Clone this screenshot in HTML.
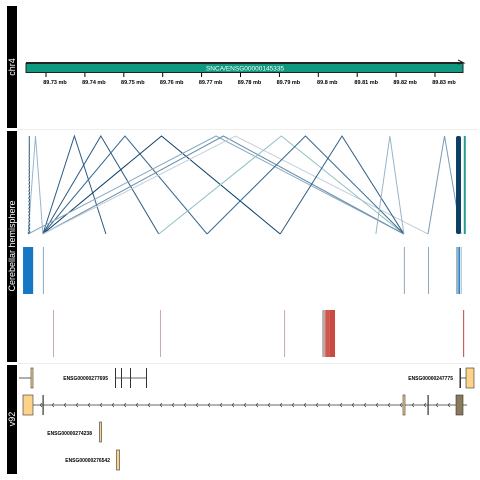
<!DOCTYPE html>
<html><head><meta charset="utf-8"><style>
html,body{margin:0;padding:0;background:#fff}
svg{display:block;font-family:"Liberation Sans",sans-serif}
</style></head><body>
<svg id="c" width="480" height="480" viewBox="0 0 480 480">
<rect x="7" y="6" width="10" height="122" fill="#000"/>
<text transform="translate(15,67) rotate(-90)" text-anchor="middle" font-size="9" fill="#fff">chr4</text>
<rect x="7" y="131" width="10" height="231" fill="#000"/>
<text transform="translate(15,246) rotate(-90)" text-anchor="middle" font-size="9" fill="#fff">Cerebellar hemisphere</text>
<rect x="7" y="365" width="10" height="109" fill="#000"/>
<text transform="translate(15,419) rotate(-90)" text-anchor="middle" font-size="9" fill="#fff">v92</text>
<line x1="18" y1="129.5" x2="478" y2="129.5" stroke="#ddd" stroke-width="0.6"/>
<line x1="18" y1="363.5" x2="478" y2="363.5" stroke="#ddd" stroke-width="0.6"/>
<rect x="26" y="63.5" width="437" height="9" fill="#0f9a80" stroke="#222" stroke-width="1"/>
<line x1="26" y1="63" x2="463" y2="63" stroke="#222" stroke-width="2"/>
<path d="M458,60 L464,63 L458,64" fill="none" stroke="#222" stroke-width="1"/>
<text x="245" y="70.5" text-anchor="middle" font-size="6.5" fill="#fff">SNCA/ENSG00000145335</text>
<g id="axis"></g><g id="links"></g><g id="cov"></g><g id="genes"></g>
</svg>
<script>
const ticks=[89.73,89.74,89.75,89.76,89.77,89.78,89.79,89.80,89.81,89.82,89.83];
const tickLabels=["89.73 mb","89.74 mb","89.75 mb","89.76 mb","89.77 mb","89.78 mb","89.79 mb","89.8 mb","89.81 mb","89.82 mb","89.83 mb"];
const linkStart=[89.7254,89.7292,89.7292,89.7292,89.7292,89.7254,89.7292,89.7292,89.7590,89.7714,89.7902,89.8148,89.8282,89.7256];
const linkEnd=[89.7292,89.7454,89.7590,89.7714,89.7902,89.8220,89.8220,89.8282,89.8220,89.8220,89.8220,89.8220,89.8367,89.7258];
const linkColor=["#9ab5c8","#2d5a80","#2d5a80","#3a6a8e","#0d3f66","#8aa9bf","#6b8fab","#c0d0dc","#8fc0c6","#3a6a8e","#2d5a80","#9ab5c8","#7a9db5","#2d5a80"];
const covPos=[89.7241,89.7292,89.8220,89.8282,89.8354,89.8360,89.8366];
const covW=[0.0026,0.0002,0.0002,0.0002,0.0005,0.0004,0.0002];
const covCol=["#1677c4","#8aa9bf","#8aa9bf","#8aa9bf","#9ab5c8","#1677c4","#9ab5c8"];
const redPos=[89.7318,89.7593,89.7912,89.8010,89.8018,89.8028,89.8372];
const redW=[0.0002,0.0002,0.0002,0.0008,0.0010,0.0015,0.0003];
const redCol=["#c9a8a8","#c9a8a8","#c9a8a8","#b8a8a8","#d0564e","#c94a42","#c9605a"];
const x=v=>46+(v-89.73)*3890;
const NS="http://www.w3.org/2000/svg";
function el(p,t,a){const e=document.createElementNS(NS,t);for(const k in a)e.setAttribute(k,a[k]);document.getElementById(p).appendChild(e);return e;}
ticks.forEach((t,i)=>{
 const l=el('axis','line',{x1:x(t),x2:x(t),y1:73,y2:77,stroke:'#000','stroke-width':1});
 
 
 const tx=el('axis','text',{x:x(t)+9,y:84,'text-anchor':'middle','font-size':5.5,'font-weight':'bold'});
 tx.textContent=tickLabels[i];
 
 
});
linkStart.forEach((s,i)=>{
 const a=x(s),b=x(linkEnd[i]),m=(a+b)/2;
 const p=el('links','path',{d:`M${a},234 L${m},136 L${b},234`,fill:'none',stroke:linkColor[i],'stroke-width':1});
 if(i===13)p.setAttribute('stroke-dasharray','2,1.5');
 
 
});
const thick=el('links','rect',{x:x(89.8354),y:136,width:5,height:98,fill:'#0d3f66',rx:2});


const teal=el('links','rect',{x:x(89.8374),y:136,width:2,height:98,fill:'#2a9a8e'});


covPos.forEach((v,i)=>{
 const r=el('cov','rect',{x:x(v),y:247,width:Math.max(1,covW[i]*3890),height:47,fill:covCol[i]});
 
 
});
redPos.forEach((v,i)=>{
 const r=el('cov','rect',{x:x(v),y:310,width:Math.max(1,redW[i]*3890),height:47,fill:redCol[i]});
 
 
});
function G(t,a,n){const e=el('genes',t,a);return e;}
G('line',{x1:19,y1:378,x2:32,y2:378,stroke:'#333','stroke-width':0.8},'transcript-line');
G('rect',{x:31,y:368,width:2,height:20,fill:'#fdd38a',stroke:'#333','stroke-width':0.6},'exon');
let t=G('text',{x:108,y:380,'text-anchor':'end','font-size':5,'font-weight':'bold'},'gene-label');t.textContent='ENSG00000277695';
G('line',{x1:115,y1:378,x2:146,y2:378,stroke:'#333','stroke-width':0.8},'transcript-line');
[115,121,130,146].forEach(v=>G('rect',{x:v,y:368,width:1,height:20,fill:'#333'},'exon'));
t=G('text',{x:453,y:380,'text-anchor':'end','font-size':5,'font-weight':'bold'},'gene-label');t.textContent='ENSG00000247775';
G('line',{x1:460,y1:378,x2:467,y2:378,stroke:'#333','stroke-width':0.8},'transcript-line');
G('rect',{x:459.5,y:368,width:1.5,height:20,fill:'#333'},'exon');
G('rect',{x:466,y:368,width:8,height:20,fill:'#fdd38a',stroke:'#333','stroke-width':0.6},'exon');
G('line',{x1:33,y1:405,x2:467,y2:405,stroke:'#333','stroke-width':0.8},'snca-transcript-line');
for(let v=40;v<460;v+=12){G('path',{d:`M${v+2},403 L${v},405 L${v+2},407`,fill:'none',stroke:'#333','stroke-width':0.6},'strand-marker');}
G('rect',{x:23,y:395,width:10,height:20,fill:'#fdd38a',stroke:'#333','stroke-width':0.6},'exon');
[42.5,427.5,460].forEach(v=>G('rect',{x:v,y:395,width:1.2,height:20,fill:'#333'},'exon'));
G('rect',{x:403,y:395,width:2,height:20,fill:'#fdd38a',stroke:'#333','stroke-width':0.6},'exon');
G('rect',{x:456,y:395,width:7,height:20,fill:'#8a7a5a',stroke:'#333','stroke-width':0.6},'exon');
t=G('text',{x:92,y:435,'text-anchor':'end','font-size':5,'font-weight':'bold'},'gene-label');t.textContent='ENSG00000274238';
G('rect',{x:99.5,y:422,width:2,height:20,fill:'#fdd38a',stroke:'#333','stroke-width':0.6},'exon');
t=G('text',{x:110,y:462,'text-anchor':'end','font-size':5,'font-weight':'bold'},'gene-label');t.textContent='ENSG00000276542';
G('rect',{x:116.5,y:450,width:3,height:20,fill:'#fdd38a',stroke:'#333','stroke-width':0.6},'exon');
</script>
</body></html>
